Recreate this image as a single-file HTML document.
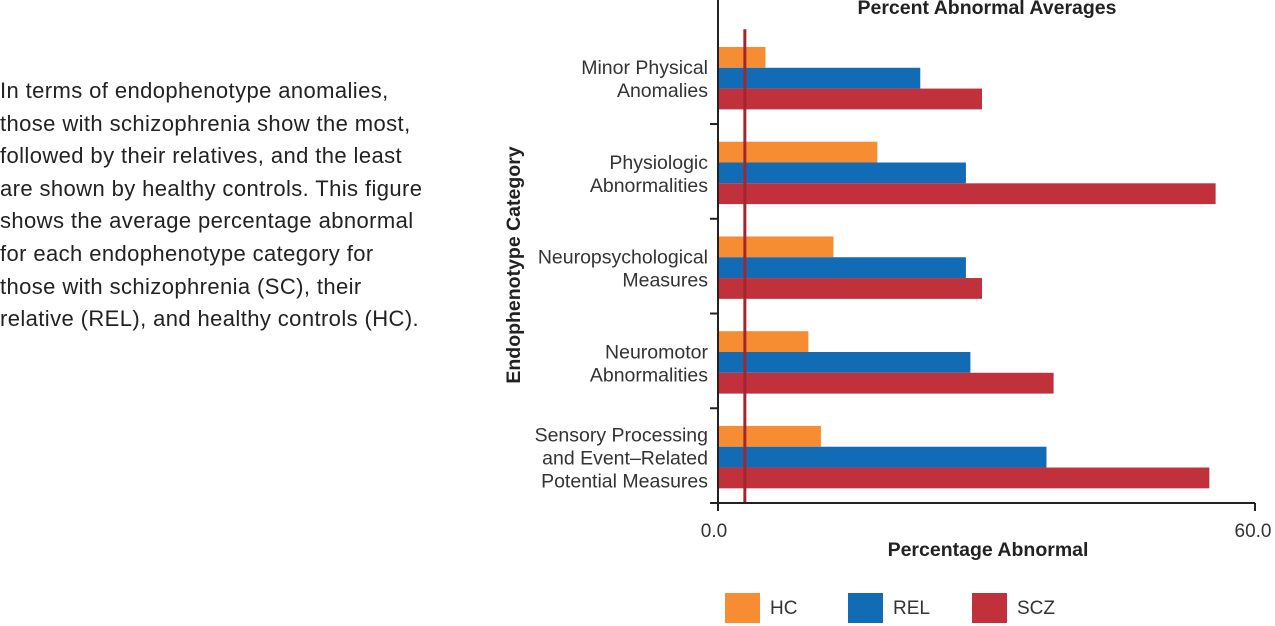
<!DOCTYPE html>
<html><head><meta charset="utf-8"><style>
body{margin:0;width:1275px;height:626px;background:#fff;overflow:hidden;font-family:"Liberation Sans",sans-serif;color:#222;}
#desc{position:absolute;left:0;top:75px;font-size:22px;line-height:32.6px;width:470px;letter-spacing:0.4px;white-space:nowrap;}
svg{position:absolute;left:0;top:0;}
</style></head><body>
<div id="desc">In terms of endophenotype anomalies,<br>those with schizophrenia show the most,<br>followed by their relatives, and the least<br>are shown by healthy controls. This figure<br>shows the average percentage abnormal<br>for each endophenotype category for<br>those with schizophrenia (SC), their<br>relative (REL), and healthy controls (HC).</div>
<svg id="chart" width="1275" height="626"></svg>
<script>
const categories=[["Minor Physical","Anomalies"],["Physiologic","Abnormalities"],["Neuropsychological","Measures"],["Neuromotor","Abnormalities"],["Sensory Processing","and Event–Related","Potential Measures"]];
const seriesNames=["HC","REL","SCZ"];
const hcValues=[5.3,17.8,12.9,10.1,11.5];
const relValues=[22.6,27.7,27.7,28.2,36.7];
const sczValues=[29.5,55.6,29.5,37.5,54.9];
const refLine=3.0;
const xTicks=["0.0","60.0"];
const xMax=60;
const colors=["#f68d32","#126cb5","#c1313b"];
const svg=document.getElementById('chart');
const NS="http://www.w3.org/2000/svg";
const x0=718,x1=1255,yTop=29.3,yBot=503;
const band=(yBot-yTop)/categories.length, barH=20.8;
function xs(v){return x0+(v/xMax)*(x1-x0);}
function mk(t,a,txt){const e=document.createElementNS(NS,t);for(const k in a)e.setAttribute(k,a[k]);if(txt!==undefined)e.textContent=txt;svg.appendChild(e);return e;}
const series=[hcValues,relValues,sczValues];
categories.forEach((c,i)=>{
  const y0=yTop+i*band+(band-3*barH)/2+1.5;
  series.forEach((s,j)=>{
    const r=mk('rect',{x:x0,y:y0+j*barH,width:xs(s[i])-x0,height:barH,fill:colors[j]});
    
    
  });
  const cy=yTop+i*band+band/2+3;
  const n=c.length;
  c.forEach((ln,k)=>{
    const t=mk('text',{x:708,y:cy+(k-(n-1)/2)*23+6,'text-anchor':'end','font-size':'19.5','fill':'#333'},ln);
    
    
  });
  const tk=mk('line',{x1:710,x2:718,y1:yTop+(i+1)*band,y2:yTop+(i+1)*band,stroke:'#222','stroke-width':2});
  
  
});
const ref=mk('line',{x1:xs(refLine),x2:xs(refLine),y1:yTop,y2:yBot,stroke:'#a3262f','stroke-width':3});


let ax=mk('line',{x1:x0,x2:x0,y1:0,y2:yBot+1,stroke:'#222','stroke-width':2});


ax=mk('line',{x1:x0-7,x2:x1,y1:yBot,y2:yBot,stroke:'#222','stroke-width':2});


[0,xMax].forEach((v,i)=>{
  const l=mk('line',{x1:xs(v),x2:xs(v),y1:yBot,y2:yBot+8,stroke:'#222','stroke-width':2});
  
  
  const t=mk('text',{x:xs(v)-(i?2:4),y:537,'text-anchor':'middle','font-size':'19','fill':'#333'},xTicks[i]);
  
  
});
let t=mk('text',{x:988,y:556,'text-anchor':'middle','font-size':'19.5','font-weight':'bold','fill':'#222'},'Percentage Abnormal');


t=mk('text',{x:987,y:14,'text-anchor':'middle','font-size':'19.5','font-weight':'bold','fill':'#222'},'Percent Abnormal Averages');


t=mk('text',{x:0,y:0,transform:'translate(520,265) rotate(-90)','text-anchor':'middle','font-size':'19.5','font-weight':'bold','fill':'#222'},'Endophenotype Category');


const legX=[725,848,972];
seriesNames.forEach((n,j)=>{
  const r=mk('rect',{x:legX[j],y:593,width:35,height:30,fill:colors[j]});
  
  
  const tt=mk('text',{x:legX[j]+45,y:614,'font-size':'19','fill':'#333'},n);
  
  
});
</script>
</body></html>
